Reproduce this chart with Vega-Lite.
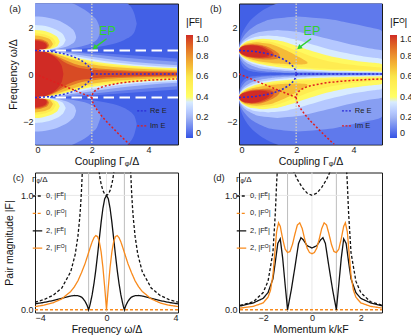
{
"$schema":"https://vega.github.io/schema/vega-lite/v6.json",
"padding":{"left":3,"top":1.5,"right":0,"bottom":0},
"background":"white",
"columns":2,
"bounds":"flush",
"spacing":{"row":28,"column":61},
"resolve":{"scale":{"fill":"independent","color":"independent","strokeDash":"independent"},"legend":{"fill":"independent","color":"independent","strokeDash":"independent"}},
"config":{
 "font":"Liberation Sans",
 "view":{"stroke":"#1a1a1a","strokeWidth":1},
 "axis":{"labelFont":"Liberation Sans","titleFont":"Liberation Sans","labelFontSize":9,"titleFontSize":10.5,"titleFontWeight":"normal","labelColor":"#222","titleColor":"#111","domain":false,"ticks":false,"grid":false,"labelPadding":2,"titlePadding":2},
 "axisX":{"titlePadding":1.5,"labelPadding":1},
 "legend":{"labelFont":"Liberation Sans","titleFont":"Liberation Sans","titleFontWeight":"normal","labelColor":"#222","titleColor":"#111"},
 "text":{"font":"Liberation Sans"}
},
"datasets":{
"ha":[
{"g":"0c","v":0.075,"x":0,"y":1,"z":-1},{"g":"0c","v":0.075,"x":0.25,"y":0.998,"z":-0.998},{"g":"0c","v":0.075,"x":0.5,"y":0.994,"z":-0.994},{"g":"0c","v":0.075,"x":0.75,"y":0.986,"z":-0.986},{"g":"0c","v":0.075,"x":1,"y":0.976,"z":-0.976},{"g":"0c","v":0.075,"x":1.5,"y":0.948,"z":-0.948},{"g":"0c","v":0.075,"x":2,"y":0.912,"z":-0.912},{"g":"0c","v":0.075,"x":3,"y":0.828,"z":-0.828},{"g":"0c","v":0.075,"x":4,"y":0.742,"z":-0.742},{"g":"0c","v":0.075,"x":5,"y":0.661,"z":-0.661},
{"g":"0u","v":0.075,"x":0,"y":4.583,"z":1},{"g":"0u","v":0.075,"x":0.25,"y":4.57,"z":1.002},{"g":"0u","v":0.075,"x":0.5,"y":4.55,"z":1.006},{"g":"0u","v":0.075,"x":1,"y":4.47,"z":1.026},{"g":"0u","v":0.075,"x":1.5,"y":4.31,"z":1.062},{"g":"0u","v":0.075,"x":2,"y":4.09,"z":1.12},{"g":"0u","v":0.075,"x":2.5,"y":3.78,"z":1.213},{"g":"0u","v":0.075,"x":3,"y":3.333,"z":1.375},{"g":"0u","v":0.075,"x":3.25,"y":3.023,"z":1.516},{"g":"0u","v":0.075,"x":3.5,"y":2.557,"z":1.792},{"g":"0u","v":0.075,"x":3.583,"y":2.141,"z":2.141},
{"g":"0l","v":0.075,"x":0,"y":-1,"z":-4.583},{"g":"0l","v":0.075,"x":0.25,"y":-1.002,"z":-4.57},{"g":"0l","v":0.075,"x":0.5,"y":-1.006,"z":-4.55},{"g":"0l","v":0.075,"x":1,"y":-1.026,"z":-4.47},{"g":"0l","v":0.075,"x":1.5,"y":-1.062,"z":-4.31},{"g":"0l","v":0.075,"x":2,"y":-1.12,"z":-4.09},{"g":"0l","v":0.075,"x":2.5,"y":-1.213,"z":-3.78},{"g":"0l","v":0.075,"x":3,"y":-1.375,"z":-3.333},{"g":"0l","v":0.075,"x":3.25,"y":-1.516,"z":-3.023},{"g":"0l","v":0.075,"x":3.5,"y":-1.792,"z":-2.557},{"g":"0l","v":0.075,"x":3.583,"y":-2.141,"z":-2.141},
{"g":"1c","v":0.15,"x":0,"y":1,"z":-1},{"g":"1c","v":0.15,"x":0.25,"y":0.997,"z":-0.997},{"g":"1c","v":0.15,"x":0.5,"y":0.988,"z":-0.988},{"g":"1c","v":0.15,"x":0.75,"y":0.973,"z":-0.973},{"g":"1c","v":0.15,"x":1,"y":0.953,"z":-0.953},{"g":"1c","v":0.15,"x":1.5,"y":0.902,"z":-0.902},{"g":"1c","v":0.15,"x":2,"y":0.842,"z":-0.842},{"g":"1c","v":0.15,"x":3,"y":0.717,"z":-0.717},{"g":"1c","v":0.15,"x":4,"y":0.608,"z":-0.608},{"g":"1c","v":0.15,"x":5,"y":0.52,"z":-0.52},
{"g":"1u","v":0.15,"x":0,"y":3.317,"z":1},{"g":"1u","v":0.15,"x":0.25,"y":3.306,"z":1.003},{"g":"1u","v":0.15,"x":0.5,"y":3.275,"z":1.013},{"g":"1u","v":0.15,"x":0.75,"y":3.221,"z":1.03},{"g":"1u","v":0.15,"x":1,"y":3.145,"z":1.055},{"g":"1u","v":0.15,"x":1.5,"y":2.907,"z":1.141},{"g":"1u","v":0.15,"x":2,"y":2.497,"z":1.328},{"g":"1u","v":0.15,"x":2.2,"y":2.22,"z":1.494},{"g":"1u","v":0.15,"x":2.317,"y":1.821,"z":1.821},
{"g":"1l","v":0.15,"x":0,"y":-1,"z":-3.317},{"g":"1l","v":0.15,"x":0.25,"y":-1.003,"z":-3.306},{"g":"1l","v":0.15,"x":0.5,"y":-1.013,"z":-3.275},{"g":"1l","v":0.15,"x":0.75,"y":-1.03,"z":-3.221},{"g":"1l","v":0.15,"x":1,"y":-1.055,"z":-3.145},{"g":"1l","v":0.15,"x":1.5,"y":-1.141,"z":-2.907},{"g":"1l","v":0.15,"x":2,"y":-1.328,"z":-2.497},{"g":"1l","v":0.15,"x":2.2,"y":-1.494,"z":-2.22},{"g":"1l","v":0.15,"x":2.317,"y":-1.821,"z":-1.821},
{"g":"2c","v":0.25,"x":0,"y":1,"z":-1},{"g":"2c","v":0.25,"x":0.25,"y":0.994,"z":-0.994},{"g":"2c","v":0.25,"x":0.5,"y":0.976,"z":-0.976},{"g":"2c","v":0.25,"x":0.75,"y":0.947,"z":-0.947},{"g":"2c","v":0.25,"x":1,"y":0.91,"z":-0.91},{"g":"2c","v":0.25,"x":1.5,"y":0.822,"z":-0.822},{"g":"2c","v":0.25,"x":2,"y":0.729,"z":-0.729},{"g":"2c","v":0.25,"x":3,"y":0.57,"z":-0.57},{"g":"2c","v":0.25,"x":4,"y":0.456,"z":-0.456},{"g":"2c","v":0.25,"x":5,"y":0.377,"z":-0.377},
{"g":"2u","v":0.25,"x":0,"y":2.449,"z":1},{"g":"2u","v":0.25,"x":0.25,"y":2.434,"z":1.006},{"g":"2u","v":0.25,"x":0.5,"y":2.387,"z":1.026},{"g":"2u","v":0.25,"x":0.75,"y":2.304,"z":1.063},{"g":"2u","v":0.25,"x":1,"y":2.175,"z":1.126},{"g":"2u","v":0.25,"x":1.25,"y":1.974,"z":1.241},{"g":"2u","v":0.25,"x":1.4,"y":1.764,"z":1.389},{"g":"2u","v":0.25,"x":1.45,"y":1.565,"z":1.565},
{"g":"2l","v":0.25,"x":0,"y":-1,"z":-2.449},{"g":"2l","v":0.25,"x":0.25,"y":-1.006,"z":-2.434},{"g":"2l","v":0.25,"x":0.5,"y":-1.026,"z":-2.387},{"g":"2l","v":0.25,"x":0.75,"y":-1.063,"z":-2.304},{"g":"2l","v":0.25,"x":1,"y":-1.126,"z":-2.175},{"g":"2l","v":0.25,"x":1.25,"y":-1.241,"z":-1.974},{"g":"2l","v":0.25,"x":1.4,"y":-1.389,"z":-1.764},{"g":"2l","v":0.25,"x":1.45,"y":-1.565,"z":-1.565},
{"g":"3c","v":0.35,"x":0,"y":1,"z":-1},{"g":"3c","v":0.35,"x":0.25,"y":0.991,"z":-0.991},{"g":"3c","v":0.35,"x":0.5,"y":0.964,"z":-0.964},{"g":"3c","v":0.35,"x":0.75,"y":0.922,"z":-0.922},{"g":"3c","v":0.35,"x":1,"y":0.869,"z":-0.869},{"g":"3c","v":0.35,"x":1.5,"y":0.75,"z":-0.75},{"g":"3c","v":0.35,"x":2,"y":0.638,"z":-0.638},{"g":"3c","v":0.35,"x":3,"y":0.47,"z":-0.47},{"g":"3c","v":0.35,"x":4,"y":0.365,"z":-0.365},{"g":"3c","v":0.35,"x":5,"y":0.297,"z":-0.297},
{"g":"3u","v":0.35,"x":0,"y":2.082,"z":1},{"g":"3u","v":0.35,"x":0.25,"y":2.062,"z":1.01},{"g":"3u","v":0.35,"x":0.5,"y":2,"z":1.041},{"g":"3u","v":0.35,"x":0.75,"y":1.884,"z":1.105},{"g":"3u","v":0.35,"x":0.9,"y":1.774,"z":1.174},{"g":"3u","v":0.35,"x":1,"y":1.664,"z":1.251},{"g":"3u","v":0.35,"x":1.082,"y":1.443,"z":1.443},
{"g":"3l","v":0.35,"x":0,"y":-1,"z":-2.082},{"g":"3l","v":0.35,"x":0.25,"y":-1.01,"z":-2.062},{"g":"3l","v":0.35,"x":0.5,"y":-1.041,"z":-2},{"g":"3l","v":0.35,"x":0.75,"y":-1.105,"z":-1.884},{"g":"3l","v":0.35,"x":0.9,"y":-1.174,"z":-1.774},{"g":"3l","v":0.35,"x":1,"y":-1.251,"z":-1.664},{"g":"3l","v":0.35,"x":1.082,"y":-1.443,"z":-1.443},
{"g":"4c","v":0.45,"x":0,"y":1,"z":-1},{"g":"4c","v":0.45,"x":0.25,"y":0.988,"z":-0.988},{"g":"4c","v":0.45,"x":0.5,"y":0.952,"z":-0.952},{"g":"4c","v":0.45,"x":0.75,"y":0.897,"z":-0.897},{"g":"4c","v":0.45,"x":1,"y":0.828,"z":-0.828},{"g":"4c","v":0.45,"x":1.5,"y":0.683,"z":-0.683},{"g":"4c","v":0.45,"x":2,"y":0.558,"z":-0.558},{"g":"4c","v":0.45,"x":3,"y":0.394,"z":-0.394},{"g":"4c","v":0.45,"x":4,"y":0.301,"z":-0.301},{"g":"4c","v":0.45,"x":5,"y":0.242,"z":-0.242},
{"g":"4u","v":0.45,"x":0,"y":1.871,"z":1},{"g":"4u","v":0.45,"x":0.25,"y":1.847,"z":1.013},{"g":"4u","v":0.45,"x":0.5,"y":1.77,"z":1.057},{"g":"4u","v":0.45,"x":0.7,"y":1.651,"z":1.133},{"g":"4u","v":0.45,"x":0.8,"y":1.551,"z":1.207},{"g":"4u","v":0.45,"x":0.871,"y":1.368,"z":1.368},
{"g":"4l","v":0.45,"x":0,"y":-1,"z":-1.871},{"g":"4l","v":0.45,"x":0.25,"y":-1.013,"z":-1.847},{"g":"4l","v":0.45,"x":0.5,"y":-1.057,"z":-1.77},{"g":"4l","v":0.45,"x":0.7,"y":-1.133,"z":-1.651},{"g":"4l","v":0.45,"x":0.8,"y":-1.207,"z":-1.551},{"g":"4l","v":0.45,"x":0.871,"y":-1.368,"z":-1.368},
{"g":"5c","v":0.55,"x":0,"y":1,"z":-1},{"g":"5c","v":0.55,"x":0.25,"y":0.985,"z":-0.985},{"g":"5c","v":0.55,"x":0.5,"y":0.94,"z":-0.94},{"g":"5c","v":0.55,"x":0.75,"y":0.87,"z":-0.87},{"g":"5c","v":0.55,"x":1,"y":0.786,"z":-0.786},{"g":"5c","v":0.55,"x":1.5,"y":0.617,"z":-0.617},{"g":"5c","v":0.55,"x":2,"y":0.486,"z":-0.486},{"g":"5c","v":0.55,"x":3,"y":0.331,"z":-0.331},{"g":"5c","v":0.55,"x":4,"y":0.249,"z":-0.249},{"g":"5c","v":0.55,"x":5,"y":0.2,"z":-0.2},
{"g":"5u","v":0.55,"x":0,"y":1.732,"z":1},{"g":"5u","v":0.55,"x":0.25,"y":1.704,"z":1.016},{"g":"5u","v":0.55,"x":0.5,"y":1.61,"z":1.076},{"g":"5u","v":0.55,"x":0.65,"y":1.495,"z":1.158},{"g":"5u","v":0.55,"x":0.732,"y":1.316,"z":1.316},
{"g":"5l","v":0.55,"x":0,"y":-1,"z":-1.732},{"g":"5l","v":0.55,"x":0.25,"y":-1.016,"z":-1.704},{"g":"5l","v":0.55,"x":0.5,"y":-1.076,"z":-1.61},{"g":"5l","v":0.55,"x":0.65,"y":-1.158,"z":-1.495},{"g":"5l","v":0.55,"x":0.732,"y":-1.316,"z":-1.316},
{"g":"6c","v":0.7,"x":0,"y":1,"z":-1},{"g":"6c","v":0.7,"x":0.25,"y":0.981,"z":-0.981},{"g":"6c","v":0.7,"x":0.5,"y":0.927,"z":-0.927},{"g":"6c","v":0.7,"x":0.75,"y":0.843,"z":-0.843},{"g":"6c","v":0.7,"x":1,"y":0.741,"z":-0.741},{"g":"6c","v":0.7,"x":1.5,"y":0.548,"z":-0.548},{"g":"6c","v":0.7,"x":2,"y":0.417,"z":-0.417},{"g":"6c","v":0.7,"x":3,"y":0.276,"z":-0.276},{"g":"6c","v":0.7,"x":4,"y":0.206,"z":-0.206},{"g":"6c","v":0.7,"x":5,"y":0.164,"z":-0.164},
{"g":"6u","v":0.7,"x":0,"y":1.633,"z":1},{"g":"6u","v":0.7,"x":0.25,"y":1.601,"z":1.02},{"g":"6u","v":0.7,"x":0.45,"y":1.52,"z":1.075},{"g":"6u","v":0.7,"x":0.55,"y":1.444,"z":1.131},{"g":"6u","v":0.7,"x":0.633,"y":1.278,"z":1.278},
{"g":"6l","v":0.7,"x":0,"y":-1,"z":-1.633},{"g":"6l","v":0.7,"x":0.25,"y":-1.02,"z":-1.601},{"g":"6l","v":0.7,"x":0.45,"y":-1.075,"z":-1.52},{"g":"6l","v":0.7,"x":0.55,"y":-1.131,"z":-1.444},{"g":"6l","v":0.7,"x":0.633,"y":-1.278,"z":-1.278},
{"g":"7c","v":0.85,"x":0,"y":1,"z":-1},{"g":"7c","v":0.85,"x":0.25,"y":0.975,"z":-0.975},{"g":"7c","v":0.85,"x":0.5,"y":0.899,"z":-0.899},{"g":"7c","v":0.85,"x":0.75,"y":0.776,"z":-0.776},{"g":"7c","v":0.85,"x":1,"y":0.625,"z":-0.625},{"g":"7c","v":0.85,"x":1.5,"y":0.389,"z":-0.389},{"g":"7c","v":0.85,"x":2,"y":0.274,"z":-0.274},{"g":"7c","v":0.85,"x":3,"y":0.174,"z":-0.174},{"g":"7c","v":0.85,"x":4,"y":0.128,"z":-0.128},{"g":"7c","v":0.85,"x":5,"y":0.102,"z":-0.102},
{"g":"7u","v":0.85,"x":0,"y":1.5,"z":1},{"g":"7u","v":0.85,"x":0.2,"y":1.475,"z":1.017},{"g":"7u","v":0.85,"x":0.35,"y":1.416,"z":1.059},{"g":"7u","v":0.85,"x":0.45,"y":1.339,"z":1.121},{"g":"7u","v":0.85,"x":0.5,"y":1.225,"z":1.225},
{"g":"7l","v":0.85,"x":0,"y":-1,"z":-1.5},{"g":"7l","v":0.85,"x":0.2,"y":-1.017,"z":-1.475},{"g":"7l","v":0.85,"x":0.35,"y":-1.059,"z":-1.416},{"g":"7l","v":0.85,"x":0.45,"y":-1.121,"z":-1.339},{"g":"7l","v":0.85,"x":0.5,"y":-1.225,"z":-1.225},
{"g":"8c","v":0.95,"x":0,"y":1,"z":-1},{"g":"8c","v":0.95,"x":0.25,"y":0.972,"z":-0.972},{"g":"8c","v":0.95,"x":0.5,"y":0.884,"z":-0.884},{"g":"8c","v":0.95,"x":0.75,"y":0.731,"z":-0.731},{"g":"8c","v":0.95,"x":1,"y":0.531,"z":-0.531},{"g":"8c","v":0.95,"x":1.5,"y":0.278,"z":-0.278},{"g":"8c","v":0.95,"x":2,"y":0.188,"z":-0.188},{"g":"8c","v":0.95,"x":3,"y":0.117,"z":-0.117},{"g":"8c","v":0.95,"x":4,"y":0.086,"z":-0.086},{"g":"8c","v":0.95,"x":5,"y":0.068,"z":-0.068},
{"g":"8u","v":0.95,"x":0,"y":1.453,"z":1},{"g":"8u","v":0.95,"x":0.2,"y":1.426,"z":1.019},{"g":"8u","v":0.95,"x":0.35,"y":1.358,"z":1.07},{"g":"8u","v":0.95,"x":0.42,"y":1.293,"z":1.124},{"g":"8u","v":0.95,"x":0.453,"y":1.205,"z":1.205},
{"g":"8l","v":0.95,"x":0,"y":-1,"z":-1.453},{"g":"8l","v":0.95,"x":0.2,"y":-1.019,"z":-1.426},{"g":"8l","v":0.95,"x":0.35,"y":-1.07,"z":-1.358},{"g":"8l","v":0.95,"x":0.42,"y":-1.124,"z":-1.293},{"g":"8l","v":0.95,"x":0.453,"y":-1.205,"z":-1.205},
{"g":"9c","v":1,"x":0,"y":1,"z":-1},{"g":"9c","v":1,"x":0.25,"y":0.968,"z":-0.968},{"g":"9c","v":1,"x":0.5,"y":0.866,"z":-0.866},{"g":"9c","v":1,"x":0.75,"y":0.661,"z":-0.661},{"g":"9c","v":1,"x":0.9,"y":0.436,"z":-0.436},{"g":"9c","v":1,"x":0.95,"y":0.312,"z":-0.312},{"g":"9c","v":1,"x":1,"y":0,"z":0},
{"g":"9u","v":1,"x":0,"y":1.414,"z":1},{"g":"9u","v":1,"x":0.2,"y":1.384,"z":1.022},{"g":"9u","v":1,"x":0.3,"y":1.341,"z":1.055},{"g":"9u","v":1,"x":0.38,"y":1.274,"z":1.11},{"g":"9u","v":1,"x":0.414,"y":1.189,"z":1.189},
{"g":"9l","v":1,"x":0,"y":-1,"z":-1.414},{"g":"9l","v":1,"x":0.2,"y":-1.022,"z":-1.384},{"g":"9l","v":1,"x":0.3,"y":-1.055,"z":-1.341},{"g":"9l","v":1,"x":0.38,"y":-1.11,"z":-1.274},{"g":"9l","v":1,"x":0.414,"y":-1.189,"z":-1.189}
],
"hb":[
{"g":"0u","v":0.075,"y":0.01,"x":5,"w":5},{"g":"0u","v":0.075,"y":0.02,"x":2.506,"w":5},{"g":"0u","v":0.075,"y":0.05,"x":0.998,"w":5},{"g":"0u","v":0.075,"y":0.1,"x":0.491,"w":5},{"g":"0u","v":0.075,"y":0.2,"x":0.231,"w":5},{"g":"0u","v":0.075,"y":0.3,"x":0.138,"w":5},{"g":"0u","v":0.075,"y":0.5,"x":0.056,"w":5},{"g":"0u","v":0.075,"y":0.7,"x":0.019,"w":5},{"g":"0u","v":0.075,"y":0.9,"x":0.004,"w":5},{"g":"0u","v":0.075,"y":1,"x":0,"w":5},{"g":"0u","v":0.075,"y":1.2,"x":0.008,"w":5},{"g":"0u","v":0.075,"y":1.5,"x":0.052,"w":5},{"g":"0u","v":0.075,"y":2,"x":0.23,"w":5},{"g":"0u","v":0.075,"y":2.5,"x":0.596,"w":5},{"g":"0u","v":0.075,"y":3,"x":1.333,"w":5},{"g":"0u","v":0.075,"y":3.1,"x":1.585,"w":4.866},
{"g":"0l","v":0.075,"y":-0.01,"x":5,"w":5},{"g":"0l","v":0.075,"y":-0.02,"x":2.506,"w":5},{"g":"0l","v":0.075,"y":-0.05,"x":0.998,"w":5},{"g":"0l","v":0.075,"y":-0.1,"x":0.491,"w":5},{"g":"0l","v":0.075,"y":-0.2,"x":0.231,"w":5},{"g":"0l","v":0.075,"y":-0.3,"x":0.138,"w":5},{"g":"0l","v":0.075,"y":-0.5,"x":0.056,"w":5},{"g":"0l","v":0.075,"y":-0.7,"x":0.019,"w":5},{"g":"0l","v":0.075,"y":-0.9,"x":0.004,"w":5},{"g":"0l","v":0.075,"y":-1,"x":0,"w":5},{"g":"0l","v":0.075,"y":-1.2,"x":0.008,"w":5},{"g":"0l","v":0.075,"y":-1.5,"x":0.052,"w":5},{"g":"0l","v":0.075,"y":-2,"x":0.23,"w":5},{"g":"0l","v":0.075,"y":-2.5,"x":0.596,"w":5},{"g":"0l","v":0.075,"y":-3,"x":1.333,"w":5},{"g":"0l","v":0.075,"y":-3.1,"x":1.585,"w":4.866},
{"g":"1u","v":0.15,"y":0.0202,"x":5,"w":5},{"g":"1u","v":0.15,"y":0.05,"x":2.01,"w":5},{"g":"1u","v":0.15,"y":0.1,"x":0.99,"w":5},{"g":"1u","v":0.15,"y":0.2,"x":0.465,"w":5},{"g":"1u","v":0.15,"y":0.3,"x":0.278,"w":5},{"g":"1u","v":0.15,"y":0.4,"x":0.178,"w":5},{"g":"1u","v":0.15,"y":0.5,"x":0.113,"w":5},{"g":"1u","v":0.15,"y":0.6,"x":0.069,"w":5},{"g":"1u","v":0.15,"y":0.7,"x":0.037,"w":5},{"g":"1u","v":0.15,"y":0.8,"x":0.016,"w":5},{"g":"1u","v":0.15,"y":0.9,"x":0.004,"w":5},{"g":"1u","v":0.15,"y":1,"x":0,"w":5},{"g":"1u","v":0.15,"y":1.1,"x":0.004,"w":5},{"g":"1u","v":0.15,"y":1.2,"x":0.016,"w":5},{"g":"1u","v":0.15,"y":1.4,"x":0.066,"w":5},{"g":"1u","v":0.15,"y":1.6,"x":0.156,"w":5},{"g":"1u","v":0.15,"y":1.8,"x":0.294,"w":5},{"g":"1u","v":0.15,"y":1.9,"x":0.387,"w":4.876},{"g":"1u","v":0.15,"y":2,"x":0.5,"w":4.5},{"g":"1u","v":0.15,"y":2.2,"x":0.817,"w":3.728},{"g":"1u","v":0.15,"y":2.35,"x":1.22,"w":3.035},{"g":"1u","v":0.15,"y":2.449,"x":2.041,"w":2.041},
{"g":"1l","v":0.15,"y":-0.0202,"x":5,"w":5},{"g":"1l","v":0.15,"y":-0.05,"x":2.01,"w":5},{"g":"1l","v":0.15,"y":-0.1,"x":0.99,"w":5},{"g":"1l","v":0.15,"y":-0.2,"x":0.465,"w":5},{"g":"1l","v":0.15,"y":-0.3,"x":0.278,"w":5},{"g":"1l","v":0.15,"y":-0.4,"x":0.178,"w":5},{"g":"1l","v":0.15,"y":-0.5,"x":0.113,"w":5},{"g":"1l","v":0.15,"y":-0.6,"x":0.069,"w":5},{"g":"1l","v":0.15,"y":-0.7,"x":0.037,"w":5},{"g":"1l","v":0.15,"y":-0.8,"x":0.016,"w":5},{"g":"1l","v":0.15,"y":-0.9,"x":0.004,"w":5},{"g":"1l","v":0.15,"y":-1,"x":0,"w":5},{"g":"1l","v":0.15,"y":-1.1,"x":0.004,"w":5},{"g":"1l","v":0.15,"y":-1.2,"x":0.016,"w":5},{"g":"1l","v":0.15,"y":-1.4,"x":0.066,"w":5},{"g":"1l","v":0.15,"y":-1.6,"x":0.156,"w":5},{"g":"1l","v":0.15,"y":-1.8,"x":0.294,"w":5},{"g":"1l","v":0.15,"y":-1.9,"x":0.387,"w":4.876},{"g":"1l","v":0.15,"y":-2,"x":0.5,"w":4.5},{"g":"1l","v":0.15,"y":-2.2,"x":0.817,"w":3.728},{"g":"1l","v":0.15,"y":-2.35,"x":1.22,"w":3.035},{"g":"1l","v":0.15,"y":-2.449,"x":2.041,"w":2.041},
{"g":"2u","v":0.25,"y":0.0416,"x":5,"w":5},{"g":"2u","v":0.25,"y":0.05,"x":4.152,"w":5},{"g":"2u","v":0.25,"y":0.1,"x":2.044,"w":5},{"g":"2u","v":0.25,"y":0.2,"x":0.958,"w":5},{"g":"2u","v":0.25,"y":0.3,"x":0.572,"w":5},{"g":"2u","v":0.25,"y":0.4,"x":0.363,"w":5},{"g":"2u","v":0.25,"y":0.5,"x":0.23,"w":5},{"g":"2u","v":0.25,"y":0.6,"x":0.139,"w":5},{"g":"2u","v":0.25,"y":0.7,"x":0.075,"w":5},{"g":"2u","v":0.25,"y":0.8,"x":0.033,"w":5},{"g":"2u","v":0.25,"y":0.9,"x":0.008,"w":5},{"g":"2u","v":0.25,"y":1,"x":0,"w":5},{"g":"2u","v":0.25,"y":1.1,"x":0.008,"w":4.537},{"g":"2u","v":0.25,"y":1.2,"x":0.033,"w":4.134},{"g":"2u","v":0.25,"y":1.3,"x":0.075,"w":3.771},{"g":"2u","v":0.25,"y":1.4,"x":0.137,"w":3.435},{"g":"2u","v":0.25,"y":1.5,"x":0.223,"w":3.11},{"g":"2u","v":0.25,"y":1.6,"x":0.342,"w":2.783},{"g":"2u","v":0.25,"y":1.7,"x":0.508,"w":2.433},{"g":"2u","v":0.25,"y":1.8,"x":0.772,"w":2.006},{"g":"2u","v":0.25,"y":1.871,"x":1.336,"w":1.336},
{"g":"2l","v":0.25,"y":-0.0416,"x":5,"w":5},{"g":"2l","v":0.25,"y":-0.05,"x":4.152,"w":5},{"g":"2l","v":0.25,"y":-0.1,"x":2.044,"w":5},{"g":"2l","v":0.25,"y":-0.2,"x":0.958,"w":5},{"g":"2l","v":0.25,"y":-0.3,"x":0.572,"w":5},{"g":"2l","v":0.25,"y":-0.4,"x":0.363,"w":5},{"g":"2l","v":0.25,"y":-0.5,"x":0.23,"w":5},{"g":"2l","v":0.25,"y":-0.6,"x":0.139,"w":5},{"g":"2l","v":0.25,"y":-0.7,"x":0.075,"w":5},{"g":"2l","v":0.25,"y":-0.8,"x":0.033,"w":5},{"g":"2l","v":0.25,"y":-0.9,"x":0.008,"w":5},{"g":"2l","v":0.25,"y":-1,"x":0,"w":5},{"g":"2l","v":0.25,"y":-1.1,"x":0.008,"w":4.537},{"g":"2l","v":0.25,"y":-1.2,"x":0.033,"w":4.134},{"g":"2l","v":0.25,"y":-1.3,"x":0.075,"w":3.771},{"g":"2l","v":0.25,"y":-1.4,"x":0.137,"w":3.435},{"g":"2l","v":0.25,"y":-1.5,"x":0.223,"w":3.11},{"g":"2l","v":0.25,"y":-1.6,"x":0.342,"w":2.783},{"g":"2l","v":0.25,"y":-1.7,"x":0.508,"w":2.433},{"g":"2l","v":0.25,"y":-1.8,"x":0.772,"w":2.006},{"g":"2l","v":0.25,"y":-1.871,"x":1.336,"w":1.336},
{"g":"3u","v":0.35,"y":0.066,"x":5,"w":5},{"g":"3u","v":0.35,"y":0.07,"x":4.71,"w":5},{"g":"3u","v":0.35,"y":0.1,"x":3.259,"w":5},{"g":"3u","v":0.35,"y":0.15,"x":2.112,"w":5},{"g":"3u","v":0.35,"y":0.2,"x":1.521,"w":5},{"g":"3u","v":0.35,"y":0.3,"x":0.901,"w":5},{"g":"3u","v":0.35,"y":0.4,"x":0.568,"w":5},{"g":"3u","v":0.35,"y":0.5,"x":0.357,"w":5},{"g":"3u","v":0.35,"y":0.6,"x":0.213,"w":5},{"g":"3u","v":0.35,"y":0.65,"x":0.159,"w":4.969},{"g":"3u","v":0.35,"y":0.7,"x":0.114,"w":4.648},{"g":"3u","v":0.35,"y":0.8,"x":0.049,"w":4.117},{"g":"3u","v":0.35,"y":0.9,"x":0.012,"w":3.692},{"g":"3u","v":0.35,"y":1,"x":0,"w":3.333},{"g":"3u","v":0.35,"y":1.1,"x":0.012,"w":3.018},{"g":"3u","v":0.35,"y":1.2,"x":0.049,"w":2.729},{"g":"3u","v":0.35,"y":1.3,"x":0.115,"w":2.449},{"g":"3u","v":0.35,"y":1.4,"x":0.217,"w":2.164},{"g":"3u","v":0.35,"y":1.5,"x":0.376,"w":1.846},{"g":"3u","v":0.35,"y":1.6,"x":0.675,"w":1.408},{"g":"3u","v":0.35,"y":1.633,"x":1.021,"w":1.021},
{"g":"3l","v":0.35,"y":-0.066,"x":5,"w":5},{"g":"3l","v":0.35,"y":-0.07,"x":4.71,"w":5},{"g":"3l","v":0.35,"y":-0.1,"x":3.259,"w":5},{"g":"3l","v":0.35,"y":-0.15,"x":2.112,"w":5},{"g":"3l","v":0.35,"y":-0.2,"x":1.521,"w":5},{"g":"3l","v":0.35,"y":-0.3,"x":0.901,"w":5},{"g":"3l","v":0.35,"y":-0.4,"x":0.568,"w":5},{"g":"3l","v":0.35,"y":-0.5,"x":0.357,"w":5},{"g":"3l","v":0.35,"y":-0.6,"x":0.213,"w":5},{"g":"3l","v":0.35,"y":-0.65,"x":0.159,"w":4.969},{"g":"3l","v":0.35,"y":-0.7,"x":0.114,"w":4.648},{"g":"3l","v":0.35,"y":-0.8,"x":0.049,"w":4.117},{"g":"3l","v":0.35,"y":-0.9,"x":0.012,"w":3.692},{"g":"3l","v":0.35,"y":-1,"x":0,"w":3.333},{"g":"3l","v":0.35,"y":-1.1,"x":0.012,"w":3.018},{"g":"3l","v":0.35,"y":-1.2,"x":0.049,"w":2.729},{"g":"3l","v":0.35,"y":-1.3,"x":0.115,"w":2.449},{"g":"3l","v":0.35,"y":-1.4,"x":0.217,"w":2.164},{"g":"3l","v":0.35,"y":-1.5,"x":0.376,"w":1.846},{"g":"3l","v":0.35,"y":-1.6,"x":0.675,"w":1.408},{"g":"3l","v":0.35,"y":-1.633,"x":1.021,"w":1.021},
{"g":"4u","v":0.45,"y":0.098,"x":5,"w":5},{"g":"4u","v":0.45,"y":0.15,"x":3.139,"w":5},{"g":"4u","v":0.45,"y":0.2,"x":2.247,"w":5},{"g":"4u","v":0.45,"y":0.3,"x":1.31,"w":5},{"g":"4u","v":0.45,"y":0.4,"x":0.811,"w":5},{"g":"4u","v":0.45,"y":0.45,"x":0.639,"w":4.917},{"g":"4u","v":0.45,"y":0.5,"x":0.5,"w":4.5},{"g":"4u","v":0.45,"y":0.6,"x":0.294,"w":3.873},{"g":"4u","v":0.45,"y":0.7,"x":0.155,"w":3.416},{"g":"4u","v":0.45,"y":0.8,"x":0.066,"w":3.059},{"g":"4u","v":0.45,"y":0.9,"x":0.016,"w":2.762},{"g":"4u","v":0.45,"y":1,"x":0,"w":2.5},{"g":"4u","v":0.45,"y":1.1,"x":0.016,"w":2.257},{"g":"4u","v":0.45,"y":1.2,"x":0.067,"w":2.017},{"g":"4u","v":0.45,"y":1.3,"x":0.16,"w":1.763},{"g":"4u","v":0.45,"y":1.4,"x":0.321,"w":1.465},{"g":"4u","v":0.45,"y":1.45,"x":0.456,"w":1.268},{"g":"4u","v":0.45,"y":1.5,"x":0.833,"w":0.833},
{"g":"4l","v":0.45,"y":-0.098,"x":5,"w":5},{"g":"4l","v":0.45,"y":-0.15,"x":3.139,"w":5},{"g":"4l","v":0.45,"y":-0.2,"x":2.247,"w":5},{"g":"4l","v":0.45,"y":-0.3,"x":1.31,"w":5},{"g":"4l","v":0.45,"y":-0.4,"x":0.811,"w":5},{"g":"4l","v":0.45,"y":-0.45,"x":0.639,"w":4.917},{"g":"4l","v":0.45,"y":-0.5,"x":0.5,"w":4.5},{"g":"4l","v":0.45,"y":-0.6,"x":0.294,"w":3.873},{"g":"4l","v":0.45,"y":-0.7,"x":0.155,"w":3.416},{"g":"4l","v":0.45,"y":-0.8,"x":0.066,"w":3.059},{"g":"4l","v":0.45,"y":-0.9,"x":0.016,"w":2.762},{"g":"4l","v":0.45,"y":-1,"x":0,"w":2.5},{"g":"4l","v":0.45,"y":-1.1,"x":0.016,"w":2.257},{"g":"4l","v":0.45,"y":-1.2,"x":0.067,"w":2.017},{"g":"4l","v":0.45,"y":-1.3,"x":0.16,"w":1.763},{"g":"4l","v":0.45,"y":-1.4,"x":0.321,"w":1.465},{"g":"4l","v":0.45,"y":-1.45,"x":0.456,"w":1.268},{"g":"4l","v":0.45,"y":-1.5,"x":0.833,"w":0.833},
{"g":"5u","v":0.55,"y":0.157,"x":5,"w":5},{"g":"5u","v":0.55,"y":0.2,"x":3.6,"w":5},{"g":"5u","v":0.55,"y":0.25,"x":2.608,"w":5},{"g":"5u","v":0.55,"y":0.28,"x":2.185,"w":4.958},{"g":"5u","v":0.55,"y":0.3,"x":1.951,"w":4.715},{"g":"5u","v":0.55,"y":0.4,"x":1.144,"w":3.856},{"g":"5u","v":0.55,"y":0.5,"x":0.677,"w":3.323},{"g":"5u","v":0.55,"y":0.6,"x":0.386,"w":2.947},{"g":"5u","v":0.55,"y":0.7,"x":0.2,"w":2.657},{"g":"5u","v":0.55,"y":0.8,"x":0.084,"w":2.416},{"g":"5u","v":0.55,"y":0.9,"x":0.02,"w":2.202},{"g":"5u","v":0.55,"y":1,"x":0,"w":2},{"g":"5u","v":0.55,"y":1.1,"x":0.02,"w":1.798},{"g":"5u","v":0.55,"y":1.2,"x":0.085,"w":1.582},{"g":"5u","v":0.55,"y":1.3,"x":0.212,"w":1.326},{"g":"5u","v":0.55,"y":1.38,"x":0.415,"w":1.034},{"g":"5u","v":0.55,"y":1.414,"x":0.707,"w":0.707},
{"g":"5l","v":0.55,"y":-0.157,"x":5,"w":5},{"g":"5l","v":0.55,"y":-0.2,"x":3.6,"w":5},{"g":"5l","v":0.55,"y":-0.25,"x":2.608,"w":5},{"g":"5l","v":0.55,"y":-0.28,"x":2.185,"w":4.958},{"g":"5l","v":0.55,"y":-0.3,"x":1.951,"w":4.715},{"g":"5l","v":0.55,"y":-0.4,"x":1.144,"w":3.856},{"g":"5l","v":0.55,"y":-0.5,"x":0.677,"w":3.323},{"g":"5l","v":0.55,"y":-0.6,"x":0.386,"w":2.947},{"g":"5l","v":0.55,"y":-0.7,"x":0.2,"w":2.657},{"g":"5l","v":0.55,"y":-0.8,"x":0.084,"w":2.416},{"g":"5l","v":0.55,"y":-0.9,"x":0.02,"w":2.202},{"g":"5l","v":0.55,"y":-1,"x":0,"w":2},{"g":"5l","v":0.55,"y":-1.1,"x":0.02,"w":1.798},{"g":"5l","v":0.55,"y":-1.2,"x":0.085,"w":1.582},{"g":"5l","v":0.55,"y":-1.3,"x":0.212,"w":1.326},{"g":"5l","v":0.55,"y":-1.38,"x":0.415,"w":1.034},{"g":"5l","v":0.55,"y":-1.414,"x":0.707,"w":0.707},
{"g":"6u","v":0.7,"y":0.408,"x":2.041,"w":2.041},{"g":"6u","v":0.7,"y":0.42,"x":1.682,"w":2.287},{"g":"6u","v":0.7,"y":0.45,"x":1.315,"w":2.389},{"g":"6u","v":0.7,"y":0.5,"x":0.94,"w":2.393},{"g":"6u","v":0.7,"y":0.6,"x":0.499,"w":2.278},{"g":"6u","v":0.7,"y":0.7,"x":0.249,"w":2.132},{"g":"6u","v":0.7,"y":0.8,"x":0.102,"w":1.981},{"g":"6u","v":0.7,"y":0.9,"x":0.024,"w":1.827},{"g":"6u","v":0.7,"y":1,"x":0,"w":1.667},{"g":"6u","v":0.7,"y":1.1,"x":0.024,"w":1.491},{"g":"6u","v":0.7,"y":1.2,"x":0.105,"w":1.284},{"g":"6u","v":0.7,"y":1.3,"x":0.282,"w":1},{"g":"6u","v":0.7,"y":1.354,"x":0.615,"w":0.615},
{"g":"6l","v":0.7,"y":-0.408,"x":2.041,"w":2.041},{"g":"6l","v":0.7,"y":-0.42,"x":1.682,"w":2.287},{"g":"6l","v":0.7,"y":-0.45,"x":1.315,"w":2.389},{"g":"6l","v":0.7,"y":-0.5,"x":0.94,"w":2.393},{"g":"6l","v":0.7,"y":-0.6,"x":0.499,"w":2.278},{"g":"6l","v":0.7,"y":-0.7,"x":0.249,"w":2.132},{"g":"6l","v":0.7,"y":-0.8,"x":0.102,"w":1.981},{"g":"6l","v":0.7,"y":-0.9,"x":0.024,"w":1.827},{"g":"6l","v":0.7,"y":-1,"x":0,"w":1.667},{"g":"6l","v":0.7,"y":-1.1,"x":0.024,"w":1.491},{"g":"6l","v":0.7,"y":-1.2,"x":0.105,"w":1.284},{"g":"6l","v":0.7,"y":-1.3,"x":0.282,"w":1},{"g":"6l","v":0.7,"y":-1.354,"x":0.615,"w":0.615},
{"g":"7u","v":0.85,"y":0.612,"x":1.021,"w":1.021},{"g":"7u","v":0.85,"y":0.65,"x":0.594,"w":1.329},{"g":"7u","v":0.85,"y":0.7,"x":0.377,"w":1.409},{"g":"7u","v":0.85,"y":0.8,"x":0.143,"w":1.42},{"g":"7u","v":0.85,"y":0.9,"x":0.033,"w":1.356},{"g":"7u","v":0.85,"y":1,"x":0,"w":1.25},{"g":"7u","v":0.85,"y":1.1,"x":0.033,"w":1.103},{"g":"7u","v":0.85,"y":1.2,"x":0.151,"w":0.891},{"g":"7u","v":0.85,"y":1.25,"x":0.282,"w":0.718},{"g":"7u","v":0.85,"y":1.275,"x":0.49,"w":0.49},
{"g":"7l","v":0.85,"y":-0.612,"x":1.021,"w":1.021},{"g":"7l","v":0.85,"y":-0.65,"x":0.594,"w":1.329},{"g":"7l","v":0.85,"y":-0.7,"x":0.377,"w":1.409},{"g":"7l","v":0.85,"y":-0.8,"x":0.143,"w":1.42},{"g":"7l","v":0.85,"y":-0.9,"x":0.033,"w":1.356},{"g":"7l","v":0.85,"y":-1,"x":0,"w":1.25},{"g":"7l","v":0.85,"y":-1.1,"x":0.033,"w":1.103},{"g":"7l","v":0.85,"y":-1.2,"x":0.151,"w":0.891},{"g":"7l","v":0.85,"y":-1.25,"x":0.282,"w":0.718},{"g":"7l","v":0.85,"y":-1.275,"x":0.49,"w":0.49},
{"g":"8u","v":0.95,"y":0.667,"x":0.833,"w":0.833},{"g":"8u","v":0.95,"y":0.7,"x":0.479,"w":1.108},{"g":"8u","v":0.95,"y":0.8,"x":0.166,"w":1.223},{"g":"8u","v":0.95,"y":0.9,"x":0.037,"w":1.197},{"g":"8u","v":0.95,"y":1,"x":0,"w":1.111},{"g":"8u","v":0.95,"y":1.1,"x":0.037,"w":0.973},{"g":"8u","v":0.95,"y":1.2,"x":0.18,"w":0.746},{"g":"8u","v":0.95,"y":1.247,"x":0.445,"w":0.445},
{"g":"8l","v":0.95,"y":-0.667,"x":0.833,"w":0.833},{"g":"8l","v":0.95,"y":-0.7,"x":0.479,"w":1.108},{"g":"8l","v":0.95,"y":-0.8,"x":0.166,"w":1.223},{"g":"8l","v":0.95,"y":-0.9,"x":0.037,"w":1.197},{"g":"8l","v":0.95,"y":-1,"x":0,"w":1.111},{"g":"8l","v":0.95,"y":-1.1,"x":0.037,"w":0.973},{"g":"8l","v":0.95,"y":-1.2,"x":0.18,"w":0.746},{"g":"8l","v":0.95,"y":-1.247,"x":0.445,"w":0.445},
{"g":"9u","v":1,"y":0.707,"x":0.707,"w":0.707},{"g":"9u","v":1,"y":0.75,"x":0.344,"w":0.989},{"g":"9u","v":1,"y":0.8,"x":0.191,"w":1.059},{"g":"9u","v":1,"y":0.9,"x":0.042,"w":1.069},{"g":"9u","v":1,"y":1,"x":0,"w":1},{"g":"9u","v":1,"y":1.1,"x":0.042,"w":0.867},{"g":"9u","v":1,"y":1.15,"x":0.103,"w":0.767},{"g":"9u","v":1,"y":1.2,"x":0.219,"w":0.615},{"g":"9u","v":1,"y":1.225,"x":0.408,"w":0.408},
{"g":"9l","v":1,"y":-0.707,"x":0.707,"w":0.707},{"g":"9l","v":1,"y":-0.75,"x":0.344,"w":0.989},{"g":"9l","v":1,"y":-0.8,"x":0.191,"w":1.059},{"g":"9l","v":1,"y":-0.9,"x":0.042,"w":1.069},{"g":"9l","v":1,"y":-1,"x":0,"w":1},{"g":"9l","v":1,"y":-1.1,"x":0.042,"w":0.867},{"g":"9l","v":1,"y":-1.15,"x":0.103,"w":0.767},{"g":"9l","v":1,"y":-1.2,"x":0.219,"w":0.615},{"g":"9l","v":1,"y":-1.225,"x":0.408,"w":0.408}
],
"ev":[
{"c":"r1","s":"Re E","x":0,"y":1},{"c":"r1","s":"Re E","x":0.5,"y":0.968},{"c":"r1","s":"Re E","x":1,"y":0.866},{"c":"r1","s":"Re E","x":1.25,"y":0.781},{"c":"r1","s":"Re E","x":1.5,"y":0.661},{"c":"r1","s":"Re E","x":1.75,"y":0.484},{"c":"r1","s":"Re E","x":1.9,"y":0.312},{"c":"r1","s":"Re E","x":1.97,"y":0.173},{"c":"r1","s":"Re E","x":1.99,"y":0.1},{"c":"r1","s":"Re E","x":2,"y":0},
{"c":"r2","s":"Re E","x":0,"y":-1},{"c":"r2","s":"Re E","x":0.5,"y":-0.968},{"c":"r2","s":"Re E","x":1,"y":-0.866},{"c":"r2","s":"Re E","x":1.25,"y":-0.781},{"c":"r2","s":"Re E","x":1.5,"y":-0.661},{"c":"r2","s":"Re E","x":1.75,"y":-0.484},{"c":"r2","s":"Re E","x":1.9,"y":-0.312},{"c":"r2","s":"Re E","x":1.97,"y":-0.173},{"c":"r2","s":"Re E","x":1.99,"y":-0.1},{"c":"r2","s":"Re E","x":2,"y":0},
{"c":"r3","s":"Re E","x":2,"y":0},{"c":"r3","s":"Re E","x":5,"y":0},
{"c":"i1","s":"Im E","x":0,"y":0},{"c":"i1","s":"Im E","x":2,"y":-1},{"c":"i1","s":"Im E","x":2.02,"y":-0.868},{"c":"i1","s":"Im E","x":2.05,"y":-0.8},{"c":"i1","s":"Im E","x":2.1,"y":-0.73},{"c":"i1","s":"Im E","x":2.2,"y":-0.642},{"c":"i1","s":"Im E","x":2.35,"y":-0.558},{"c":"i1","s":"Im E","x":2.5,"y":-0.5},{"c":"i1","s":"Im E","x":3,"y":-0.382},{"c":"i1","s":"Im E","x":3.5,"y":-0.314},{"c":"i1","s":"Im E","x":4,"y":-0.268},{"c":"i1","s":"Im E","x":4.5,"y":-0.234},{"c":"i1","s":"Im E","x":5,"y":-0.209},
{"c":"i2","s":"Im E","x":2,"y":-1},{"c":"i2","s":"Im E","x":2.02,"y":-1.152},{"c":"i2","s":"Im E","x":2.05,"y":-1.25},{"c":"i2","s":"Im E","x":2.1,"y":-1.37},{"c":"i2","s":"Im E","x":2.2,"y":-1.558},{"c":"i2","s":"Im E","x":2.35,"y":-1.792},{"c":"i2","s":"Im E","x":2.5,"y":-2},{"c":"i2","s":"Im E","x":3,"y":-2.618},{"c":"i2","s":"Im E","x":3.2,"y":-2.849},{"c":"i2","s":"Im E","x":3.333,"y":-3}
],
"lg":[{"s":"Re E","x":3.6,"x2":3.95,"y":-1.57,"tx":4.05},{"s":"Im E","x":3.6,"x2":3.95,"y":-2.21,"tx":4.05}],
"ep":[{"t":"EP","x":2.55,"y":1.85}],
"arrow":[{"x":2.52,"y":1.5,"x2":2.1,"y2":1.12}],
"head":[{"x":2.1,"y":1.12}],
"wd":[{"y":1},{"y":-1}],
"vx":[{"x":2}],
"la":[{"t":"(a)","x":-0.7,"y":2.78}],
"lb":[{"t":"(b)","x":-0.81,"y":2.78}],
"lc":[{"t":"(c)","x":-4.93,"y":1.15}],
"ld":[{"t":"(d)","x":-3.81,"y":1.15}],
"gv":[{"x":-1},{"x":1}],
"g0":[{"x":0}],
"g1":[{"y":1}],
"cl":[
{"s":"0, |Fᴱ|","w":-4,"f":0.0667},{"s":"0, |Fᴱ|","w":-3.5,"f":0.0889},{"s":"0, |Fᴱ|","w":-3,"f":0.125},{"s":"0, |Fᴱ|","w":-2.5,"f":0.1905},{"s":"0, |Fᴱ|","w":-2,"f":0.3333},{"s":"0, |Fᴱ|","w":-1.75,"f":0.4848},{"s":"0, |Fᴱ|","w":-1.6,"f":0.641},{"s":"0, |Fᴱ|","w":-1.5,"f":0.8},{"s":"0, |Fᴱ|","w":-1.45,"f":0.907},{"s":"0, |Fᴱ|","w":-1.4,"f":1.0417},{"s":"0, |Fᴱ|","w":-1.35,"f":1.2158},{"s":"0, |Fᴱ|","w":-1.3,"f":1.4493},{"s":"0, |Fᴱ|","w":-0.45,"f":1.2539},{"s":"0, |Fᴱ|","w":-0.4,"f":1.1905},{"s":"0, |Fᴱ|","w":-0.35,"f":1.1396},{"s":"0, |Fᴱ|","w":-0.3,"f":1.0989},{"s":"0, |Fᴱ|","w":-0.2,"f":1.0417},{"s":"0, |Fᴱ|","w":-0.1,"f":1.0101},{"s":"0, |Fᴱ|","w":0,"f":1},{"s":"0, |Fᴱ|","w":0.1,"f":1.0101},{"s":"0, |Fᴱ|","w":0.2,"f":1.0417},{"s":"0, |Fᴱ|","w":0.3,"f":1.0989},{"s":"0, |Fᴱ|","w":0.35,"f":1.1396},{"s":"0, |Fᴱ|","w":0.4,"f":1.1905},{"s":"0, |Fᴱ|","w":0.45,"f":1.2539},{"s":"0, |Fᴱ|","w":1.3,"f":1.4493},{"s":"0, |Fᴱ|","w":1.35,"f":1.2158},{"s":"0, |Fᴱ|","w":1.4,"f":1.0417},{"s":"0, |Fᴱ|","w":1.45,"f":0.907},{"s":"0, |Fᴱ|","w":1.5,"f":0.8},{"s":"0, |Fᴱ|","w":1.6,"f":0.641},{"s":"0, |Fᴱ|","w":1.75,"f":0.4848},{"s":"0, |Fᴱ|","w":2,"f":0.3333},{"s":"0, |Fᴱ|","w":2.5,"f":0.1905},{"s":"0, |Fᴱ|","w":3,"f":0.125},{"s":"0, |Fᴱ|","w":3.5,"f":0.0889},{"s":"0, |Fᴱ|","w":4,"f":0.0667},
{"s":"0, |Fᴼ|","w":-4,"f":0},{"s":"0, |Fᴼ|","w":4,"f":0},
{"s":"2, |Fᴱ|","w":-4,"f":0.0519},{"s":"2, |Fᴱ|","w":-3.5,"f":0.0641},{"s":"2, |Fᴱ|","w":-3,"f":0.08},{"s":"2, |Fᴱ|","w":-2.5,"f":0.0999},{"s":"2, |Fᴱ|","w":-2,"f":0.12},{"s":"2, |Fᴱ|","w":-1.8,"f":0.1246},{"s":"2, |Fᴱ|","w":-1.6,"f":0.1231},{"s":"2, |Fᴱ|","w":-1.4,"f":0.1111},{"s":"2, |Fᴱ|","w":-1.3,"f":0.0954},{"s":"2, |Fᴱ|","w":-1.2,"f":0.0739},{"s":"2, |Fᴱ|","w":-1.1,"f":0.043},{"s":"2, |Fᴱ|","w":-1.05,"f":0.0232},{"s":"2, |Fᴱ|","w":-1,"f":0},{"s":"2, |Fᴱ|","w":-0.95,"f":0.0269},{"s":"2, |Fᴱ|","w":-0.9,"f":0.058},{"s":"2, |Fᴱ|","w":-0.8,"f":0.1338},{"s":"2, |Fᴱ|","w":-0.7,"f":0.2297},{"s":"2, |Fᴱ|","w":-0.6,"f":0.346},{"s":"2, |Fᴱ|","w":-0.5,"f":0.48},{"s":"2, |Fᴱ|","w":-0.4,"f":0.6243},{"s":"2, |Fᴱ|","w":-0.3,"f":0.7659},{"s":"2, |Fᴱ|","w":-0.2,"f":0.8876},{"s":"2, |Fᴱ|","w":-0.1,"f":0.9705},{"s":"2, |Fᴱ|","w":0,"f":1},{"s":"2, |Fᴱ|","w":0.1,"f":0.9705},{"s":"2, |Fᴱ|","w":0.2,"f":0.8876},{"s":"2, |Fᴱ|","w":0.3,"f":0.7659},{"s":"2, |Fᴱ|","w":0.4,"f":0.6243},{"s":"2, |Fᴱ|","w":0.5,"f":0.48},{"s":"2, |Fᴱ|","w":0.6,"f":0.346},{"s":"2, |Fᴱ|","w":0.7,"f":0.2297},{"s":"2, |Fᴱ|","w":0.8,"f":0.1338},{"s":"2, |Fᴱ|","w":0.9,"f":0.058},{"s":"2, |Fᴱ|","w":0.95,"f":0.0269},{"s":"2, |Fᴱ|","w":1,"f":0},{"s":"2, |Fᴱ|","w":1.05,"f":0.0232},{"s":"2, |Fᴱ|","w":1.1,"f":0.043},{"s":"2, |Fᴱ|","w":1.2,"f":0.0739},{"s":"2, |Fᴱ|","w":1.3,"f":0.0954},{"s":"2, |Fᴱ|","w":1.4,"f":0.1111},{"s":"2, |Fᴱ|","w":1.6,"f":0.1231},{"s":"2, |Fᴱ|","w":1.8,"f":0.1246},{"s":"2, |Fᴱ|","w":2,"f":0.12},{"s":"2, |Fᴱ|","w":2.5,"f":0.0999},{"s":"2, |Fᴱ|","w":3,"f":0.08},{"s":"2, |Fᴱ|","w":3.5,"f":0.0641},{"s":"2, |Fᴱ|","w":4,"f":0.0519},
{"s":"2, |Fᴼ|","w":-4,"f":0.0277},{"s":"2, |Fᴼ|","w":-3.5,"f":0.0399},{"s":"2, |Fᴼ|","w":-3,"f":0.06},{"s":"2, |Fᴼ|","w":-2.5,"f":0.0951},{"s":"2, |Fᴼ|","w":-2,"f":0.16},{"s":"2, |Fᴼ|","w":-1.8,"f":0.2002},{"s":"2, |Fᴼ|","w":-1.6,"f":0.2525},{"s":"2, |Fᴼ|","w":-1.4,"f":0.3239},{"s":"2, |Fᴼ|","w":-1.2,"f":0.4031},{"s":"2, |Fᴼ|","w":-1,"f":0.5},{"s":"2, |Fᴼ|","w":-0.9,"f":0.5494},{"s":"2, |Fᴼ|","w":-0.8,"f":0.5949},{"s":"2, |Fᴼ|","w":-0.7,"f":0.6306},{"s":"2, |Fᴼ|","w":-0.6,"f":0.6488},{"s":"2, |Fᴼ|","w":-0.5,"f":0.64},{"s":"2, |Fᴼ|","w":-0.4,"f":0.5945},{"s":"2, |Fᴼ|","w":-0.3,"f":0.505},{"s":"2, |Fᴼ|","w":-0.2,"f":0.3698},{"s":"2, |Fᴼ|","w":-0.1,"f":0.1961},{"s":"2, |Fᴼ|","w":-0.05,"f":0.0995},{"s":"2, |Fᴼ|","w":0,"f":0},{"s":"2, |Fᴼ|","w":0.05,"f":0.0995},{"s":"2, |Fᴼ|","w":0.1,"f":0.1961},{"s":"2, |Fᴼ|","w":0.2,"f":0.3698},{"s":"2, |Fᴼ|","w":0.3,"f":0.505},{"s":"2, |Fᴼ|","w":0.4,"f":0.5945},{"s":"2, |Fᴼ|","w":0.5,"f":0.64},{"s":"2, |Fᴼ|","w":0.6,"f":0.6488},{"s":"2, |Fᴼ|","w":0.7,"f":0.6306},{"s":"2, |Fᴼ|","w":0.8,"f":0.5949},{"s":"2, |Fᴼ|","w":0.9,"f":0.5494},{"s":"2, |Fᴼ|","w":1,"f":0.5},{"s":"2, |Fᴼ|","w":1.2,"f":0.4031},{"s":"2, |Fᴼ|","w":1.4,"f":0.3239},{"s":"2, |Fᴼ|","w":1.6,"f":0.2525},{"s":"2, |Fᴼ|","w":1.8,"f":0.2002},{"s":"2, |Fᴼ|","w":2,"f":0.16},{"s":"2, |Fᴼ|","w":2.5,"f":0.0951},{"s":"2, |Fᴼ|","w":3,"f":0.06},{"s":"2, |Fᴼ|","w":3.5,"f":0.0399},{"s":"2, |Fᴼ|","w":4,"f":0.0277}
],
"dl":[
{"s":"0, |Fᴱ|","k":-2.95,"f":0.038},{"s":"0, |Fᴱ|","k":-2.4,"f":0.07},{"s":"0, |Fᴱ|","k":-2,"f":0.15},{"s":"0, |Fᴱ|","k":-1.8,"f":0.25},{"s":"0, |Fᴱ|","k":-1.6,"f":0.5},{"s":"0, |Fᴱ|","k":-1.5,"f":0.85},{"s":"0, |Fᴱ|","k":-1.45,"f":1.1},{"s":"0, |Fᴱ|","k":-1.4,"f":1.3},{"s":"0, |Fᴱ|","k":-0.8,"f":1.26},{"s":"0, |Fᴱ|","k":-0.75,"f":1.21},{"s":"0, |Fᴱ|","k":-0.6,"f":1.14},{"s":"0, |Fᴱ|","k":-0.4,"f":1.07},{"s":"0, |Fᴱ|","k":-0.2,"f":1.02},{"s":"0, |Fᴱ|","k":0,"f":1},{"s":"0, |Fᴱ|","k":0.2,"f":1.02},{"s":"0, |Fᴱ|","k":0.4,"f":1.07},{"s":"0, |Fᴱ|","k":0.6,"f":1.14},{"s":"0, |Fᴱ|","k":0.75,"f":1.21},{"s":"0, |Fᴱ|","k":0.8,"f":1.26},{"s":"0, |Fᴱ|","k":1.4,"f":1.3},{"s":"0, |Fᴱ|","k":1.45,"f":1.1},{"s":"0, |Fᴱ|","k":1.5,"f":0.85},{"s":"0, |Fᴱ|","k":1.6,"f":0.5},{"s":"0, |Fᴱ|","k":1.8,"f":0.25},{"s":"0, |Fᴱ|","k":2,"f":0.15},{"s":"0, |Fᴱ|","k":2.4,"f":0.07},{"s":"0, |Fᴱ|","k":2.87,"f":0.04},
{"s":"0, |Fᴼ|","k":-2.95,"f":0},{"s":"0, |Fᴼ|","k":2.87,"f":0},
{"s":"2, |Fᴱ|","k":-2.95,"f":0.033},{"s":"2, |Fᴱ|","k":-2.4,"f":0.06},{"s":"2, |Fᴱ|","k":-2,"f":0.1},{"s":"2, |Fᴱ|","k":-1.8,"f":0.15},{"s":"2, |Fᴱ|","k":-1.6,"f":0.27},{"s":"2, |Fᴱ|","k":-1.5,"f":0.42},{"s":"2, |Fᴱ|","k":-1.4,"f":0.58},{"s":"2, |Fᴱ|","k":-1.3,"f":0.62},{"s":"2, |Fᴱ|","k":-1.2,"f":0.45},{"s":"2, |Fᴱ|","k":-1.1,"f":0.22},{"s":"2, |Fᴱ|","k":-1,"f":0},{"s":"2, |Fᴱ|","k":-0.85,"f":0.17},{"s":"2, |Fᴱ|","k":-0.7,"f":0.37},{"s":"2, |Fᴱ|","k":-0.55,"f":0.58},{"s":"2, |Fᴱ|","k":-0.45,"f":0.63},{"s":"2, |Fᴱ|","k":-0.35,"f":0.61},{"s":"2, |Fᴱ|","k":-0.2,"f":0.56},{"s":"2, |Fᴱ|","k":0,"f":0.54},{"s":"2, |Fᴱ|","k":0.2,"f":0.56},{"s":"2, |Fᴱ|","k":0.35,"f":0.61},{"s":"2, |Fᴱ|","k":0.45,"f":0.63},{"s":"2, |Fᴱ|","k":0.55,"f":0.58},{"s":"2, |Fᴱ|","k":0.7,"f":0.37},{"s":"2, |Fᴱ|","k":0.85,"f":0.17},{"s":"2, |Fᴱ|","k":1,"f":0},{"s":"2, |Fᴱ|","k":1.1,"f":0.22},{"s":"2, |Fᴱ|","k":1.2,"f":0.45},{"s":"2, |Fᴱ|","k":1.3,"f":0.62},{"s":"2, |Fᴱ|","k":1.4,"f":0.58},{"s":"2, |Fᴱ|","k":1.5,"f":0.42},{"s":"2, |Fᴱ|","k":1.6,"f":0.27},{"s":"2, |Fᴱ|","k":1.8,"f":0.15},{"s":"2, |Fᴱ|","k":2,"f":0.1},{"s":"2, |Fᴱ|","k":2.4,"f":0.06},{"s":"2, |Fᴱ|","k":2.87,"f":0.035},
{"s":"2, |Fᴼ|","k":-2.95,"f":0.014},{"s":"2, |Fᴼ|","k":-2.4,"f":0.03},{"s":"2, |Fᴼ|","k":-2,"f":0.06},{"s":"2, |Fᴼ|","k":-1.8,"f":0.11},{"s":"2, |Fᴼ|","k":-1.7,"f":0.17},{"s":"2, |Fᴼ|","k":-1.6,"f":0.3},{"s":"2, |Fᴼ|","k":-1.5,"f":0.55},{"s":"2, |Fᴼ|","k":-1.45,"f":0.68},{"s":"2, |Fᴼ|","k":-1.37,"f":0.76},{"s":"2, |Fᴼ|","k":-1.3,"f":0.73},{"s":"2, |Fᴼ|","k":-1.2,"f":0.62},{"s":"2, |Fᴼ|","k":-1.1,"f":0.53},{"s":"2, |Fᴼ|","k":-1,"f":0.5},{"s":"2, |Fᴼ|","k":-0.9,"f":0.51},{"s":"2, |Fᴼ|","k":-0.8,"f":0.57},{"s":"2, |Fᴼ|","k":-0.7,"f":0.66},{"s":"2, |Fᴼ|","k":-0.6,"f":0.74},{"s":"2, |Fᴼ|","k":-0.5,"f":0.76},{"s":"2, |Fᴼ|","k":-0.4,"f":0.71},{"s":"2, |Fᴼ|","k":-0.3,"f":0.62},{"s":"2, |Fᴼ|","k":-0.2,"f":0.54},{"s":"2, |Fᴼ|","k":-0.1,"f":0.5},{"s":"2, |Fᴼ|","k":0,"f":0.49},{"s":"2, |Fᴼ|","k":0.1,"f":0.5},{"s":"2, |Fᴼ|","k":0.2,"f":0.54},{"s":"2, |Fᴼ|","k":0.3,"f":0.62},{"s":"2, |Fᴼ|","k":0.4,"f":0.71},{"s":"2, |Fᴼ|","k":0.5,"f":0.76},{"s":"2, |Fᴼ|","k":0.6,"f":0.74},{"s":"2, |Fᴼ|","k":0.7,"f":0.66},{"s":"2, |Fᴼ|","k":0.8,"f":0.57},{"s":"2, |Fᴼ|","k":0.9,"f":0.51},{"s":"2, |Fᴼ|","k":1,"f":0.5},{"s":"2, |Fᴼ|","k":1.1,"f":0.53},{"s":"2, |Fᴼ|","k":1.2,"f":0.62},{"s":"2, |Fᴼ|","k":1.3,"f":0.73},{"s":"2, |Fᴼ|","k":1.37,"f":0.76},{"s":"2, |Fᴼ|","k":1.45,"f":0.68},{"s":"2, |Fᴼ|","k":1.5,"f":0.55},{"s":"2, |Fᴼ|","k":1.6,"f":0.3},{"s":"2, |Fᴼ|","k":1.7,"f":0.17},{"s":"2, |Fᴼ|","k":1.8,"f":0.11},{"s":"2, |Fᴼ|","k":2,"f":0.06},{"s":"2, |Fᴼ|","k":2.4,"f":0.03},{"s":"2, |Fᴼ|","k":2.87,"f":0.015}
]
},
"concat":[
 {"width":143,"height":141,"view":{"fill":"#4260e6","stroke":"#1a1a1a"},
  "layer":[
   {"data":{"name":"ha"},"mark":{"type":"area","interpolate":"monotone","clip":true},
    "encoding":{
     "x":{"field":"x","type":"quantitative","scale":{"domain":[0,5.035],"nice":false,"zero":false},"axis":{"title":"Coupling Γᵩ/Δ","values":[0,2,4]}},
     "y":{"field":"y","type":"quantitative","scale":{"domain":[-3,3],"nice":false,"zero":false},"axis":{"title":"Frequency ω/Δ","values":[-2,-1,0,1,2],"titlePadding":4}},
     "y2":{"field":"z"},
     "fill":{"field":"v","type":"quantitative","scale":{"domain":[0,0.2,0.4,0.6,0.8,1],"range":["#3454e4","#a3b6f4","#ffffff","#f9e54a","#eb9230","#d02b25"]},
      "legend":{"title":"|Fᴱ|","orient":"none","legendX":151,"legendY":14,"direction":"vertical","gradientLength":103,"gradientThickness":7,"gradientStrokeWidth":0,"values":[0,0.2,0.4,0.6,0.8,1],"labelExpr":"datum.value==0?'0':format(datum.value,'.1f')","labelFontSize":9,"titleFontSize":10.5,"titlePadding":7,"labelOffset":3}},
     "detail":{"field":"g"}}},
   {"data":{"name":"wd"},"mark":{"type":"rule","stroke":"white","strokeWidth":2,"strokeDash":[10.5,5.5]},"encoding":{"y":{"field":"y","type":"quantitative"}}},
   {"data":{"name":"vx"},"mark":{"type":"rule","stroke":"#c9c9c9","strokeWidth":1.5,"strokeDash":[1.5,1.5]},"encoding":{"x":{"field":"x","type":"quantitative"}}},
   {"data":{"name":"ev"},"mark":{"type":"line","strokeWidth":1.5,"strokeDash":[2,2],"clip":true},"encoding":{"x":{"field":"x","type":"quantitative"},"y":{"field":"y","type":"quantitative"},"stroke":{"field":"s","type":"nominal","scale":{"domain":["Re E","Im E"],"range":["#2a2ad8","#e01e1e"]},"legend":null},"detail":{"field":"c"}}},
   {"data":{"name":"lg"},"mark":{"type":"rule","strokeWidth":1.3,"strokeDash":[2,1.5]},"encoding":{"x":{"field":"x","type":"quantitative"},"x2":{"field":"x2"},"y":{"field":"y","type":"quantitative"},"stroke":{"field":"s","type":"nominal","legend":null}}},
   {"data":{"name":"lg"},"mark":{"type":"text","align":"left","fontSize":7.5,"color":"#222"},"encoding":{"x":{"field":"tx","type":"quantitative"},"y":{"field":"y","type":"quantitative"},"text":{"field":"s"}}},
   {"data":{"name":"arrow"},"mark":{"type":"rule","stroke":"#2fd12f","strokeWidth":1.5},"encoding":{"x":{"field":"x","type":"quantitative"},"y":{"field":"y","type":"quantitative"},"x2":{"field":"x2"},"y2":{"field":"y2"}}},
   {"data":{"name":"head"},"mark":{"type":"point","shape":"triangle-up","filled":true,"color":"#2fd12f","size":30,"angle":231,"opacity":1},"encoding":{"x":{"field":"x","type":"quantitative"},"y":{"field":"y","type":"quantitative"}}},
   {"data":{"name":"ep"},"mark":{"type":"text","fontSize":12.5,"color":"#2fd12f"},"encoding":{"x":{"field":"x","type":"quantitative"},"y":{"field":"y","type":"quantitative"},"text":{"field":"t"}}},
   {"data":{"name":"la"},"mark":{"type":"text","fontSize":9.5,"color":"#222"},"encoding":{"x":{"field":"x","type":"quantitative"},"y":{"field":"y","type":"quantitative"},"text":{"field":"t"}}}
  ]},
 {"width":143,"height":141,"view":{"fill":"#4260e6","stroke":"#1a1a1a"},
  "layer":[
   {"data":{"name":"hb"},"mark":{"type":"area","orient":"horizontal","interpolate":"monotone","clip":true},
    "encoding":{
     "y":{"field":"y","type":"quantitative","scale":{"domain":[-3,3],"nice":false,"zero":false},"axis":{"title":null,"values":[-2,-1,0,1,2]}},
     "x":{"field":"x","type":"quantitative","scale":{"domain":[0,5],"nice":false,"zero":false},"axis":{"title":"Coupling Γᵩ/Δ","values":[0,2,4]}},
     "x2":{"field":"w"},
     "fill":{"field":"v","type":"quantitative","scale":{"domain":[0,0.2,0.4,0.6,0.8,1],"range":["#3454e4","#a3b6f4","#ffffff","#f9e54a","#eb9230","#d02b25"]},
      "legend":{"title":"|Fᴼ|","orient":"none","legendX":151,"legendY":14,"direction":"vertical","gradientLength":103,"gradientThickness":7,"gradientStrokeWidth":0,"values":[0,0.2,0.4,0.6,0.8,1],"labelExpr":"datum.value==0?'0':format(datum.value,'.1f')","labelFontSize":9,"titleFontSize":10.5,"titlePadding":7,"labelOffset":3}},
     "detail":{"field":"g"}}},
   {"data":{"name":"vx"},"mark":{"type":"rule","stroke":"#c9c9c9","strokeWidth":1.5,"strokeDash":[1.5,1.5]},"encoding":{"x":{"field":"x","type":"quantitative"}}},
   {"data":{"name":"ev"},"mark":{"type":"line","strokeWidth":1.5,"strokeDash":[2,2],"clip":true},"encoding":{"x":{"field":"x","type":"quantitative"},"y":{"field":"y","type":"quantitative"},"stroke":{"field":"s","type":"nominal","scale":{"domain":["Re E","Im E"],"range":["#2a2ad8","#e01e1e"]},"legend":null},"detail":{"field":"c"}}},
   {"data":{"name":"lg"},"mark":{"type":"rule","strokeWidth":1.3,"strokeDash":[2,1.5]},"encoding":{"x":{"field":"x","type":"quantitative"},"x2":{"field":"x2"},"y":{"field":"y","type":"quantitative"},"stroke":{"field":"s","type":"nominal","legend":null}}},
   {"data":{"name":"lg"},"mark":{"type":"text","align":"left","fontSize":7.5,"color":"#222"},"encoding":{"x":{"field":"tx","type":"quantitative"},"y":{"field":"y","type":"quantitative"},"text":{"field":"s"}}},
   {"data":{"name":"arrow"},"mark":{"type":"rule","stroke":"#2fd12f","strokeWidth":1.5},"encoding":{"x":{"field":"x","type":"quantitative"},"y":{"field":"y","type":"quantitative"},"x2":{"field":"x2"},"y2":{"field":"y2"}}},
   {"data":{"name":"head"},"mark":{"type":"point","shape":"triangle-up","filled":true,"color":"#2fd12f","size":30,"angle":231,"opacity":1},"encoding":{"x":{"field":"x","type":"quantitative"},"y":{"field":"y","type":"quantitative"}}},
   {"data":{"name":"ep"},"mark":{"type":"text","fontSize":12.5,"color":"#2fd12f"},"encoding":{"x":{"field":"x","type":"quantitative"},"y":{"field":"y","type":"quantitative"},"text":{"field":"t"}}},
   {"data":{"name":"lb"},"mark":{"type":"text","fontSize":9.5,"color":"#222"},"encoding":{"x":{"field":"x","type":"quantitative"},"y":{"field":"y","type":"quantitative"},"text":{"field":"t"}}}
  ]},
 {"width":143,"height":140,
  "layer":[
   {"data":{"name":"gv"},"mark":{"type":"rule","stroke":"#bdbdbd","strokeWidth":1},"encoding":{"x":{"field":"x","type":"quantitative"}}},
   {"data":{"name":"g0"},"mark":{"type":"rule","stroke":"#e8e8e8","strokeWidth":1},"encoding":{"x":{"field":"x","type":"quantitative"}}},
   {"data":{"name":"g1"},"mark":{"type":"rule","stroke":"#e8e8e8","strokeWidth":1},"encoding":{"y":{"field":"y","type":"quantitative"}}},
   {"data":{"name":"cl"},"mark":{"type":"line","strokeWidth":1.3,"clip":true},
    "encoding":{
     "x":{"field":"w","type":"quantitative","scale":{"domain":[-4,4],"nice":false,"zero":false},"axis":{"title":"Frequency ω/Δ","values":[-4,-2,0,2,4]}},
     "y":{"field":"f","type":"quantitative","scale":{"domain":[-0.024,1.2],"nice":false,"zero":false},"axis":{"title":"Pair magnitude |F|","values":[0,1],"titlePadding":6}},
     "color":{"field":"s","type":"nominal","scale":{"domain":["0, |Fᴱ|","0, |Fᴼ|","2, |Fᴱ|","2, |Fᴼ|"],"range":["#111111","#f88a1c","#111111","#f88a1c"]},
      "legend":{"title":"Γᵩ/Δ","orient":"none","legendX":-3,"legendY":3,"symbolType":"stroke","symbolSize":90,"symbolStrokeWidth":1.3,"labelFontSize":7.5,"titleFontSize":8,"rowPadding":8.4,"labelOffset":3,"titlePadding":7}},
     "strokeDash":{"field":"s","type":"nominal","scale":{"domain":["0, |Fᴱ|","0, |Fᴼ|","2, |Fᴱ|","2, |Fᴼ|"],"range":[[3,2],[3,2],[1,0],[1,0]]},
      "legend":{"title":"Γᵩ/Δ","orient":"none","legendX":-3,"legendY":3,"symbolType":"stroke","symbolSize":90,"symbolStrokeWidth":1.3,"labelFontSize":7.5,"titleFontSize":8,"rowPadding":8.4,"labelOffset":3,"titlePadding":7}}}},
   {"data":{"name":"lc"},"mark":{"type":"text","fontSize":9.5,"color":"#222"},"encoding":{"x":{"field":"x","type":"quantitative"},"y":{"field":"y","type":"quantitative"},"text":{"field":"t"}}}
  ]},
 {"width":143,"height":140,
  "layer":[
   {"data":{"name":"gv"},"mark":{"type":"rule","stroke":"#bdbdbd","strokeWidth":1},"encoding":{"x":{"field":"x","type":"quantitative"}}},
   {"data":{"name":"g0"},"mark":{"type":"rule","stroke":"#e8e8e8","strokeWidth":1},"encoding":{"x":{"field":"x","type":"quantitative"}}},
   {"data":{"name":"g1"},"mark":{"type":"rule","stroke":"#e8e8e8","strokeWidth":1},"encoding":{"y":{"field":"y","type":"quantitative"}}},
   {"data":{"name":"dl"},"mark":{"type":"line","strokeWidth":1.3,"clip":true},
    "encoding":{
     "x":{"field":"k","type":"quantitative","scale":{"domain":[-2.99,2.87],"nice":false,"zero":false},"axis":{"title":"Momentum k/kF","values":[-2,-1,0,1,2]}},
     "y":{"field":"f","type":"quantitative","scale":{"domain":[-0.024,1.2],"nice":false,"zero":false},"axis":{"title":null,"values":[0,1]}},
     "color":{"field":"s","type":"nominal","scale":{"domain":["0, |Fᴱ|","0, |Fᴼ|","2, |Fᴱ|","2, |Fᴼ|"],"range":["#111111","#f88a1c","#111111","#f88a1c"]},
      "legend":{"title":"Γᵩ/Δ","orient":"none","legendX":-3,"legendY":3,"symbolType":"stroke","symbolSize":90,"symbolStrokeWidth":1.3,"labelFontSize":7.5,"titleFontSize":8,"rowPadding":8.4,"labelOffset":3,"titlePadding":7}},
     "strokeDash":{"field":"s","type":"nominal","scale":{"domain":["0, |Fᴱ|","0, |Fᴼ|","2, |Fᴱ|","2, |Fᴼ|"],"range":[[3,2],[3,2],[1,0],[1,0]]},
      "legend":{"title":"Γᵩ/Δ","orient":"none","legendX":-3,"legendY":3,"symbolType":"stroke","symbolSize":90,"symbolStrokeWidth":1.3,"labelFontSize":7.5,"titleFontSize":8,"rowPadding":8.4,"labelOffset":3,"titlePadding":7}}}},
   {"data":{"name":"ld"},"mark":{"type":"text","fontSize":9.5,"color":"#222"},"encoding":{"x":{"field":"x","type":"quantitative"},"y":{"field":"y","type":"quantitative"},"text":{"field":"t"}}}
  ]}
]
}
